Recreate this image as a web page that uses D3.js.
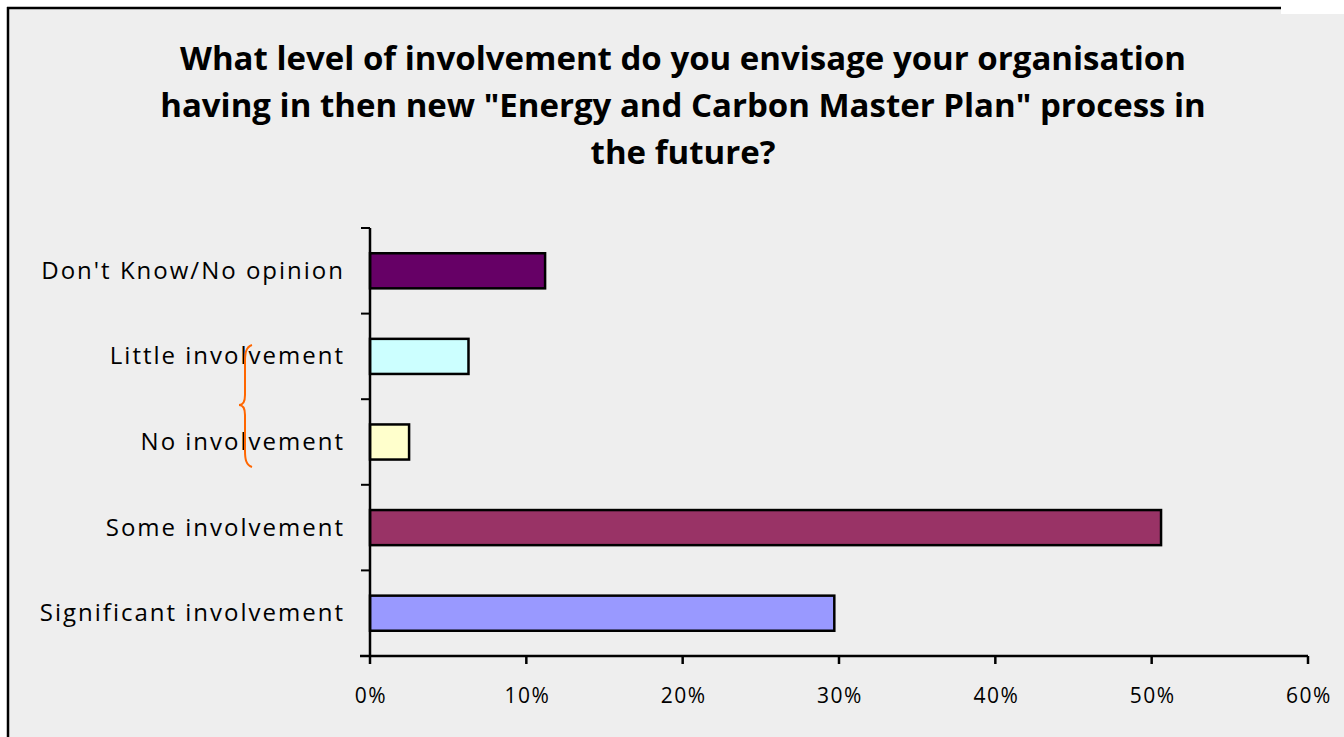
<!DOCTYPE html>
<html><head><meta charset="utf-8">
<script src="https://cdn.jsdelivr.net/npm/d3@7/dist/d3.min.js"></script>
<style>html,body{margin:0;padding:0;background:#fff;}svg{display:block;}</style>
</head><body>
<svg id="c" width="1344" height="737"></svg>
<script>
const categories = ["Don't Know/No opinion","Little involvement","No involvement","Some involvement","Significant involvement"];
const values = [11.2, 6.3, 2.5, 50.6, 29.7];
const colors = ["#660066","#ccffff","#ffffcc","#993366","#9999ff"];
const xTicks = [0,10,20,30,40,50,60];
const titleLines = ["What level of involvement do you envisage your organisation","having in then new \"Energy and Carbon Master Plan\" process in","the future?"];

const svg = d3.select("#c");
// background
svg.append("rect").attr("x",8).attr("y",8).attr("width",1336).attr("height",729).attr("fill","#eeeeee");
svg.append("rect").attr("x",1281).attr("y",0).attr("width",63).attr("height",14).attr("fill","#fff");
svg.append("line").attr("x1",8).attr("x2",8).attr("y1",7).attr("y2",737).attr("stroke","#000").attr("stroke-width",2.5);
svg.append("line").attr("x1",7).attr("x2",1281).attr("y1",8).attr("y2",8).attr("stroke","#000").attr("stroke-width",2.5);

const font = "Open Sans, Noto Sans, sans-serif";
svg.append("g").selectAll("text").data(titleLines).join("text")
  .attr("x",683).attr("y",(d,i)=>70+i*47)
  .attr("text-anchor","middle").attr("font-family",font).attr("font-weight","bold")
  .attr("font-size",33).attr("fill","#000").text(d=>d);

const x = d3.scaleLinear().domain([0,60]).range([370,1308]);
const y = d3.scaleBand().domain(categories).range([228,656]).paddingInner(0.59).paddingOuter(0.295);

// bars
svg.append("g").selectAll("rect").data(categories).join("rect")
  .attr("x",x(0)).attr("y",d=>y(d)).attr("width",(d,i)=>x(values[i])-x(0)).attr("height",y.bandwidth())
  .attr("fill",(d,i)=>colors[i]).attr("stroke","#000").attr("stroke-width",2.5);

// y axis
const yb = d3.scaleBand().domain(categories).range([228,656]);
svg.append("line").attr("x1",370).attr("x2",370).attr("y1",228).attr("y2",657).attr("stroke","#000").attr("stroke-width",2.5);
const yTickPos = categories.map(c=>yb(c)).concat([656]);
svg.append("g").selectAll("line").data(yTickPos).join("line")
  .attr("x1",361).attr("x2",370).attr("y1",d=>d).attr("y2",d=>d).attr("stroke","#000").attr("stroke-width",2);
svg.append("g").selectAll("text").data(categories).join("text")
  .attr("x",345).attr("y",d=>yb(d)+yb.bandwidth()/2+8).attr("text-anchor","end")
  .attr("font-family",font).attr("font-size",24).attr("letter-spacing",2).attr("fill","#000").text(d=>d);

// x axis
svg.append("line").attr("x1",360).attr("x2",1308).attr("y1",656).attr("y2",656).attr("stroke","#000").attr("stroke-width",2.5);
svg.append("g").selectAll("line").data(xTicks).join("line")
  .attr("x1",d=>x(d)).attr("x2",d=>x(d)).attr("y1",656).attr("y2",664).attr("stroke","#000").attr("stroke-width",2.5);
svg.append("g").selectAll("text").data(xTicks).join("text")
  .attr("x",d=>x(d)+1).attr("y",703).attr("text-anchor","middle")
  .attr("font-family",font).attr("font-size",21).attr("letter-spacing",1.5).attr("fill","#000").text(d=>d+"%");

// brace
const bx = 252, by0 = 345, by1 = 467, bm = 405;
svg.append("path")
  .attr("d",`M${bx},${by0} C${bx-6},${by0+2} ${bx-7},${by0+8} ${bx-7},${by0+16} L${bx-7},${bm-10} C${bx-7},${bm-4} ${bx-9},${bm} ${bx-13},${bm} C${bx-9},${bm} ${bx-7},${bm+4} ${bx-7},${bm+10} L${bx-7},${by1-16} C${bx-7},${by1-8} ${bx-6},${by1-2} ${bx},${by1}`)
  .attr("fill","none").attr("stroke","#ff6600").attr("stroke-width",2);
</script>
</body></html>
